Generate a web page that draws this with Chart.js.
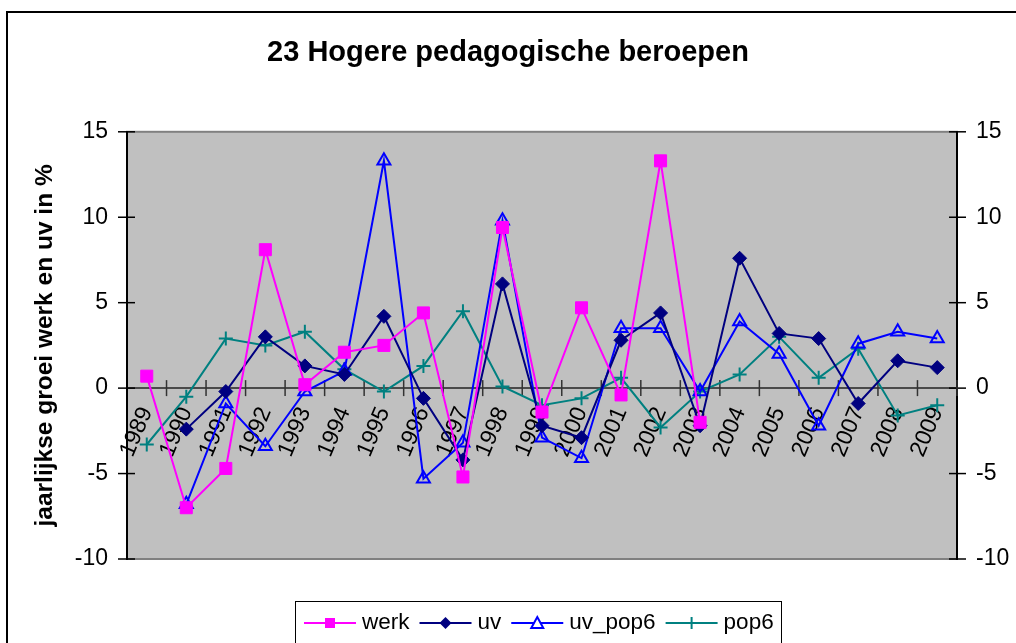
<!DOCTYPE html>
<html>
<head>
<meta charset="utf-8">
<script src="https://cdn.jsdelivr.net/npm/chart.js@4/dist/chart.umd.min.js"></script>
<style>
  html, body { margin: 0; padding: 0; background: #fff; }
</style>
</head>
<body>
<canvas id="myChart" width="1016" height="643"></canvas>
<script>
// data
const years = ['1989', '1990', '1991', '1992', '1993', '1994', '1995', '1996', '1997', '1998', '1999',
  '2000', '2001', '2002', '2003', '2004', '2005', '2006', '2007', '2008', '2009'];
const werk = [0.7, -7.0, -4.7, 8.1, 0.2, 2.1, 2.5, 4.4, -5.2, 9.4, -1.4, 4.7, -0.4, 13.3, -2.0,
  null, null, null, null, null, null];
const uv = [null, -2.4, -0.2, 3.0, 1.3, 0.8, 4.2, -0.6, -4.2, 6.1, -2.2, -2.9, 2.8, 4.4, -2.2,
  7.6, 3.2, 2.9, -0.9, 1.6, 1.2];
const uvPop6 = [null, -6.8, -0.9, -3.4, -0.2, 1.0, 13.3, -5.3, -3.2, 9.8, -2.9, -4.1, 3.5, 3.5, -0.2,
  3.9, 2.0, -2.2, 2.6, 3.3, 2.9];
const pop6 = [-3.3, -0.5, 2.9, 2.5, 3.3, 1.1, -0.2, 1.3, 4.5, 0.1, -1.0, -0.6, 0.6, -2.3, -0.2,
  0.8, 3.0, 0.6, 2.3, -1.6, -1.0];
const yTicks = [-10, -5, 0, 5, 10, 15];

const FONT = '"Liberation Sans", Arial, sans-serif';

const line = (ctx, x1, y1, x2, y2) => {
  ctx.beginPath();
  ctx.moveTo(x1, y1);
  ctx.lineTo(x2, y2);
  ctx.stroke();
};

// outer frame, grey plot area and the crossing tick marks
const frame = {
  id: 'frame',
  beforeDraw(chart) {
    const { ctx, chartArea: a } = chart;
    ctx.save();
    ctx.fillStyle = '#fff';
    ctx.fillRect(0, 0, chart.width, chart.height);
    ctx.strokeStyle = '#000';
    ctx.lineWidth = 2;
    ctx.strokeRect(7, 12, chart.width + 40, chart.height + 40);
    ctx.fillStyle = '#c0c0c0';
    ctx.fillRect(a.left, a.top, a.width, a.height);
    ctx.strokeStyle = '#808080';
    ctx.strokeRect(a.left, a.top, a.width, a.height);
    ctx.restore();
  },
  beforeDatasetsDraw(chart) {
    const { ctx, scales } = chart;
    const { x, y, y2 } = scales;
    ctx.save();
    ctx.lineWidth = 1.5;
    ctx.strokeStyle = '#000';
    yTicks.forEach((v) => {
      const py = y.getPixelForValue(v);
      line(ctx, y.right - 9, py, y.right + 8, py);
      const py2 = y2.getPixelForValue(v);
      line(ctx, y2.left - 8, py2, y2.left + 9, py2);
    });
    const zero = y.getPixelForValue(0);
    const half = x.width / years.length / 2;
    ctx.strokeStyle = '#333';
    years.forEach((yr, i) => {
      const px = x.getPixelForValue(i) + half;
      line(ctx, px, zero - 8, px, zero + 8);
    });
    ctx.restore();
  }
};

// Excel style legend: line with marker, boxed
const legendBox = {
  id: 'legendBox',
  afterDraw(chart) {
    const ctx = chart.ctx;
    ctx.save();
    ctx.fillStyle = '#fff';
    ctx.fillRect(295, 601, 486, 60);
    ctx.strokeStyle = '#000';
    ctx.lineWidth = 1;
    ctx.strokeRect(295.5, 601.5, 486, 60);
    ctx.font = '22.5px ' + FONT;
    ctx.textBaseline = 'middle';
    let lx = 304;
    const ly = 623;
    chart.data.datasets.forEach((ds) => {
      ctx.strokeStyle = ds.borderColor;
      ctx.fillStyle = ds.borderColor;
      ctx.lineWidth = 2;
      line(ctx, lx, ly, lx + 52, ly);
      const cx = lx + 26;
      if (ds.pointStyle === 'rect') {
        ctx.fillRect(cx - 5, ly - 5, 10, 10);
      } else if (ds.pointStyle === 'rectRot') {
        ctx.beginPath();
        ctx.moveTo(cx, ly - 6); ctx.lineTo(cx + 6, ly); ctx.lineTo(cx, ly + 6); ctx.lineTo(cx - 6, ly);
        ctx.closePath();
        ctx.fill();
      } else if (ds.pointStyle === 'triangle') {
        ctx.fillStyle = '#fff';
        ctx.beginPath();
        ctx.moveTo(cx, ly - 6); ctx.lineTo(cx + 6, ly + 5); ctx.lineTo(cx - 6, ly + 5);
        ctx.closePath();
        ctx.fill();
        ctx.stroke();
      } else {
        line(ctx, cx, ly - 6, cx, ly + 6);
      }
      ctx.fillStyle = '#000';
      ctx.fillText(ds.label, lx + 58, ly);
      lx += 58 + ctx.measureText(ds.label).width + 10;
    });
    ctx.restore();
  }
};

const series = (label, data, color, pointStyle, radius, fill) => ({
  label,
  data,
  borderColor: color,
  backgroundColor: fill ? color : 'rgba(0,0,0,0)',
  borderWidth: 2,
  pointStyle,
  pointRadius: radius,
  pointHoverRadius: radius,
  pointBorderWidth: fill ? 1 : 2,
  pointBackgroundColor: fill ? color : 'rgba(0,0,0,0)',
  pointBorderColor: color,
  tension: 0,
  spanGaps: false,
  clip: false,
});

const ctx = document.getElementById('myChart').getContext('2d');
const chart = new Chart(ctx, {
  type: 'line',
  data: {
    labels: years,
    datasets: [
      series('werk', werk, '#ff00ff', 'rect', 8.5, true),
      series('uv', uv, '#000080', 'rectRot', 7, true),
      series('uv_pop6', uvPop6, '#0000ff', 'triangle', 7.5, false),
      series('pop6', pop6, '#008080', 'cross', 7, false),
    ],
  },
  options: {
    responsive: false,
    animation: false,
    layout: { padding: { top: 0, left: 0, right: 0, bottom: 84 } },
    plugins: {
      legend: { display: false },
      tooltip: { enabled: false },
      title: {
        display: true,
        text: '23 Hogere pedagogische beroepen',
        color: '#000',
        font: { family: FONT, size: 29, weight: 'bold', lineHeight: 1.2 },
        padding: { top: 36, bottom: 61 },
      },
    },
    scales: {
      x: {
        type: 'category',
        position: { y: 0 },
        offset: true,
        grid: { display: true, offset: true, drawOnChartArea: false, drawTicks: false },
        border: { display: true, color: '#4a4a4a', width: 2 },
        ticks: {
          color: '#000',
          font: { family: FONT, size: 23 },
          autoSkip: false,
          minRotation: 67,
          maxRotation: 67,
          padding: 15,
        },
      },
      y: {
        position: 'left',
        min: -10,
        max: 15,
        afterFit: (scale) => { scale.width = 127; },
        afterBuildTicks: (scale) => { scale.ticks = yTicks.map((v) => ({ value: v })); },
        grid: { drawOnChartArea: false, drawTicks: false },
        border: { display: true, color: '#000', width: 2 },
        ticks: { color: '#000', font: { family: FONT, size: 23 }, padding: 19 },
        title: {
          display: true,
          text: 'jaarlijkse groei werk en uv in %',
          color: '#000',
          font: { family: FONT, size: 24.5, weight: 'bold', lineHeight: 1.2 },
          padding: { top: 31, bottom: 0 },
        },
      },
      y2: {
        position: 'right',
        min: -10,
        max: 15,
        afterFit: (scale) => { scale.width = 59; },
        afterBuildTicks: (scale) => { scale.ticks = yTicks.map((v) => ({ value: v })); },
        grid: { drawOnChartArea: false, drawTicks: false },
        border: { display: true, color: '#000', width: 2 },
        ticks: { color: '#000', font: { family: FONT, size: 23 }, padding: 19 },
      },
    },
  },
  plugins: [frame, legendBox],
});
</script>
</body>
</html>
